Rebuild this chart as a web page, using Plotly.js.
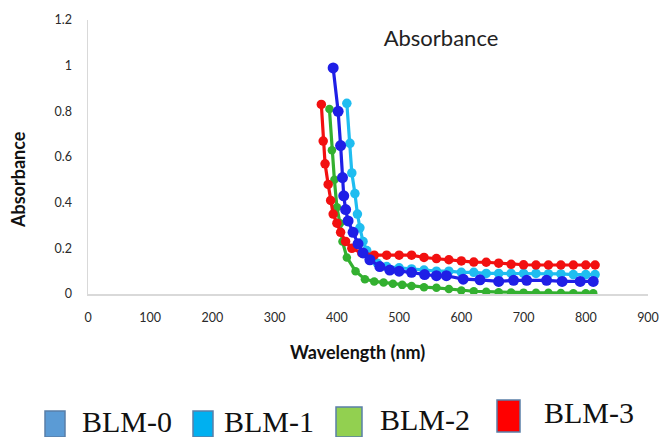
<!DOCTYPE html>
<html>
<head>
<meta charset="utf-8">
<script src="https://cdn.plot.ly/plotly-3.0.1.min.js"></script>
<style>html,body{margin:0;padding:0;background:#fff;} #chart{width:663px;height:437px;}</style>
</head>
<body>
<div id="chart"></div>
<script>
// ---- data ----
var seriesNames = ["BLM-0", "BLM-1", "BLM-2", "BLM-3"];

var blm0X = [394,402,406,409,411,414,418,426,434,442,453,469,485,500,520,541,560,576,603,630,660,684,705,737,762,791,812];
var blm0Y = [0.99,0.80,0.65,0.51,0.43,0.37,0.32,0.27,0.22,0.18,0.15,0.12,0.105,0.10,0.095,0.085,0.08,0.08,0.065,0.062,0.055,0.06,0.06,0.06,0.055,0.055,0.055];

var blm1X = [416,421,424,429,433,437,442,448,455,465,480,500,520,540,560,580,600,620,640,660,680,700,720,740,760,780,800,815];
var blm1Y = [0.835,0.66,0.53,0.44,0.35,0.29,0.23,0.19,0.16,0.135,0.12,0.115,0.11,0.105,0.10,0.10,0.095,0.095,0.09,0.09,0.09,0.09,0.09,0.088,0.088,0.085,0.085,0.085];

var blm2X = [388,392,396,400,405,409,416,430,445,460,475,490,505,520,540,560,580,600,620,640,660,680,700,720,740,760,780,800,812];
var blm2Y = [0.81,0.63,0.50,0.38,0.31,0.23,0.16,0.10,0.065,0.055,0.05,0.045,0.04,0.035,0.03,0.027,0.022,0.015,0.012,0.01,0.008,0.007,0.006,0.005,0.005,0.004,0.003,0.003,0.003];

var blm3X = [375,378,381,386,390,394,400,406,414,424,440,460,480,500,520,540,560,580,600,620,640,660,680,700,720,740,760,780,800,815];
var blm3Y = [0.83,0.67,0.57,0.48,0.41,0.35,0.31,0.27,0.23,0.20,0.18,0.17,0.17,0.17,0.17,0.16,0.155,0.15,0.145,0.14,0.139,0.135,0.13,0.128,0.127,0.127,0.127,0.127,0.127,0.127];

var xTickVals = [0,100,200,300,400,500,600,700,800,900];
var yTickVals = [0,0.2,0.4,0.6,0.8,1,1.2];
var yTickText = ["0","0.2","0.4","0.6","0.8","1","1.2"];

var lineColors = ["#1f1fe6", "#1fbdf0", "#33b030", "#f21010"];
var legendColors = ["#5b9bd5", "#00b0f0", "#92d050", "#ff0000"];

// ---- layout helpers (pixel -> paper) ----
var L = 88, T = 20, W = 560, H = 274;
function px(x){ return (x - L) / W; }
function py(y){ return (T + H - y) / H; }

function tr(x, y, name, color, size){
  return {x:x, y:y, name:name, type:"scatter", mode:"lines+markers",
    line:{color:color, width:3.2}, marker:{color:color, size:size}, showlegend:false};
}
var traces = [
  tr(blm1X, blm1Y, seriesNames[1], lineColors[1], 9.5),
  tr(blm2X, blm2Y, seriesNames[2], lineColors[2], 8.5),
  tr(blm3X, blm3Y, seriesNames[3], lineColors[3], 9.5),
  tr(blm0X, blm0Y, seriesNames[0], lineColors[0], 11)
];

// custom legend (separate image style in the reference)
var legBoxes = [[45,65,411,437],[193,213,411,437],[336,362,407,437],[497,520,400,432]];
var legText = [[80,432],[222,432],[378,429],[542,422]];
var shapes = [], annotations = [];
for (var i = 0; i < seriesNames.length; i++){
  var b = legBoxes[i];
  shapes.push({type:"rect", xref:"paper", yref:"paper", x0:px(b[0]), x1:px(b[1]), y0:py(b[3]), y1:py(b[2]),
    fillcolor:legendColors[i], line:{color:"#5a7fa8", width:1.5}});
  annotations.push({xref:"paper", yref:"paper", x:px(legText[i][0]), y:py(legText[i][1]-10),
    xanchor:"left", yanchor:"middle", showarrow:false, text:seriesNames[i],
    font:{family:"Liberation Serif, Times New Roman, serif", size:30, color:"#111"}});
}
// axis titles
annotations.push({xref:"paper", yref:"paper", x:px(357), y:py(352), xanchor:"center", yanchor:"middle",
  showarrow:false, text:"<b>Wavelength (nm)</b>", font:{family:"Lato, sans-serif", size:18, color:"#111"}});
annotations.push({xref:"paper", yref:"paper", x:px(18), y:py(180), xanchor:"center", yanchor:"middle",
  showarrow:false, textangle:-90, text:"<b>Absorbance</b>", font:{family:"Lato, sans-serif", size:18, color:"#111"}});

var layout = {
  width:663, height:437,
  margin:{l:L, r:663-L-W, t:T, b:437-T-H},
  paper_bgcolor:"#fff", plot_bgcolor:"#fff",
  title:{text:"Absorbance", x:441/663, y:1-38/437, xanchor:"center", yanchor:"middle",
    font:{family:"Lato, sans-serif", size:22, color:"#222"}},
  xaxis:{range:[0,900], tickvals:xTickVals, showgrid:false, zeroline:false,
    showline:true, linecolor:"#d9d9d9", linewidth:1.5,
    ticks:"outside", ticklen:11, tickcolor:"rgba(0,0,0,0)",
    tickfont:{family:"Lato, sans-serif", size:12.5, color:"#2a2a2a"}},
  yaxis:{range:[0,1.2], tickvals:yTickVals, ticktext:yTickText, showgrid:false, zeroline:false,
    showline:true, linecolor:"#d9d9d9", linewidth:1.5,
    ticks:"outside", ticklen:12, tickcolor:"rgba(0,0,0,0)",
    tickfont:{family:"Lato, sans-serif", size:12.5, color:"#2a2a2a"}},
  shapes:shapes, annotations:annotations, showlegend:false
};

Plotly.newPlot("chart", traces, layout, {displayModeBar:false, staticPlot:true});
</script>
</body>
</html>
